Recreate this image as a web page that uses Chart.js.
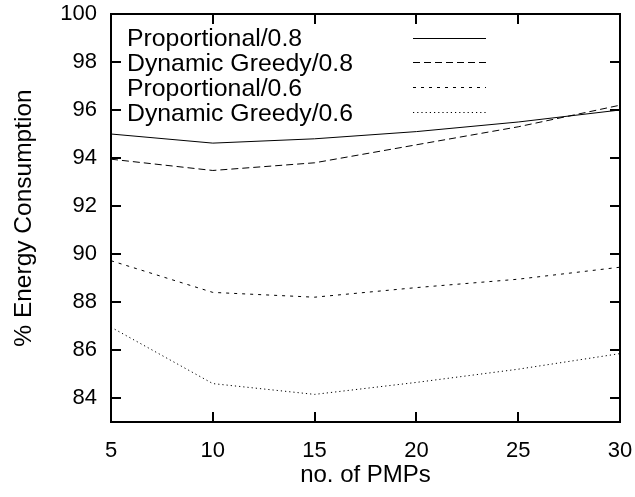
<!DOCTYPE html>
<html>
<head>
<meta charset="utf-8">
<script src="https://cdn.jsdelivr.net/npm/chart.js@4/dist/chart.umd.min.js"></script>
<style>
html,body{margin:0;padding:0;background:#fff;}
#wrap{width:635px;height:497px;}
</style>
</head>
<body>
<div id="wrap"><canvas id="c" width="635" height="497"></canvas></div>
<script>
const xValues = [5, 10, 15, 20, 25, 30];
const xTicks = [5, 10, 15, 20, 25, 30];
const yTicks = [84, 86, 88, 90, 92, 94, 96, 98, 100];
const seriesNames = ["Proportional/0.8", "Dynamic Greedy/0.8", "Proportional/0.6", "Dynamic Greedy/0.6"];
const prop08 = [95.0, 94.62, 94.8, 95.1, 95.5, 96.0];
const dg08 = [93.95, 93.48, 93.8, 94.55, 95.3, 96.2];
const prop06 = [89.72, 88.4, 88.2, 88.6, 88.95, 89.45];
const dg06 = [86.95, 84.6, 84.15, 84.65, 85.2, 85.85];
const xTitle = "no. of PMPs";
const yTitle = "% Energy Consumption";

const FONT = '"Liberation Sans", Arial, Helvetica, sans-serif';
const dashes = [[], [7, 4], [3, 5], [1.2, 3]];
const allSeries = [prop08, dg08, prop06, dg06];

const datasets = allSeries.map((vals, i) => ({
  label: seriesNames[i],
  data: xValues.map((x, j) => ({x: x, y: vals[j]})),
  borderColor: '#000',
  borderWidth: 1,
  borderDash: dashes[i],
  pointRadius: 0,
  fill: false,
  tension: 0
}));

const framePlugin = {
  id: 'frame',
  beforeDraw(chart) {
    const ctx = chart.ctx;
    ctx.save();
    ctx.fillStyle = '#fff';
    ctx.fillRect(0, 0, chart.width, chart.height);
    ctx.restore();
  },
  afterDraw(chart) {
    const ctx = chart.ctx;
    const a = chart.chartArea;
    const xs = chart.scales.x, ys = chart.scales.y;
    ctx.save();
    ctx.strokeStyle = '#000';
    ctx.lineWidth = 2;
    ctx.beginPath();
    const tl = 10;
    xTicks.forEach(v => {
      const px = Math.round(xs.getPixelForValue(v));
      ctx.moveTo(px, a.bottom); ctx.lineTo(px, a.bottom - tl);
      ctx.moveTo(px, a.top); ctx.lineTo(px, a.top + tl);
    });
    yTicks.forEach(v => {
      const py = Math.round(ys.getPixelForValue(v));
      ctx.moveTo(a.left, py); ctx.lineTo(a.left + tl, py);
      ctx.moveTo(a.right, py); ctx.lineTo(a.right - tl, py);
    });
    ctx.stroke();
    ctx.lineWidth = 2;
    ctx.strokeRect(a.left, a.top, a.right - a.left, a.bottom - a.top);

    ctx.fillStyle = '#000';
    ctx.font = '24.8px ' + FONT;
    ctx.textAlign = 'left';
    ctx.textBaseline = 'alphabetic';
    chart.data.datasets.forEach((ds, i) => {
      const ly = 37.5 + i * 24.9;
      ctx.fillText(ds.label, 127, ly + 8.5);
      ctx.save();
      ctx.lineWidth = 1;
      ctx.strokeStyle = '#000';
      ctx.setLineDash(ds.borderDash || []);
      ctx.beginPath();
      ctx.moveTo(413, Math.round(ly) + 0.5);
      ctx.lineTo(486, Math.round(ly) + 0.5);
      ctx.stroke();
      ctx.restore();
    });

    ctx.font = '24px ' + FONT;
    ctx.textAlign = 'center';
    ctx.textBaseline = 'alphabetic';
    ctx.fillText(xTitle, (a.left + a.right) / 2, 482);
    ctx.save();
    ctx.font = '24.5px ' + FONT;
    ctx.translate(31, (a.top + a.bottom) / 2);
    ctx.rotate(-Math.PI / 2);
    ctx.fillText(yTitle, 0, 0);
    ctx.restore();
    ctx.restore();
  }
};

new Chart(document.getElementById('c'), {
  type: 'line',
  data: { datasets: datasets },
  options: {
    responsive: false,
    animation: false,
    devicePixelRatio: 1,
    layout: { padding: { top: 14, right: 15, left: 0, bottom: 0 } },
    plugins: { legend: { display: false }, tooltip: { enabled: false } },
    scales: {
      x: {
        type: 'linear', min: 5, max: 30,
        grid: { display: false, drawTicks: false },
        border: { display: false },
        ticks: { color: '#000', font: { family: FONT, size: 22 }, padding: 16, maxRotation: 0, autoSkip: false },
        afterBuildTicks: s => { s.ticks = xTicks.map(v => ({ value: v })); },
        afterFit: s => { s.height = 75; s.paddingLeft = 0; s.paddingRight = 0; }
      },
      y: {
        type: 'linear', min: 83, max: 100,
        grid: { display: false, drawTicks: false },
        border: { display: false },
        ticks: { color: '#000', font: { family: FONT, size: 22 }, padding: 14, autoSkip: false },
        afterBuildTicks: s => { s.ticks = yTicks.map(v => ({ value: v })); },
        afterFit: s => { s.width = 111; s.paddingTop = 0; s.paddingBottom = 0; }
      }
    }
  },
  plugins: [framePlugin]
});
</script>
</body>
</html>
